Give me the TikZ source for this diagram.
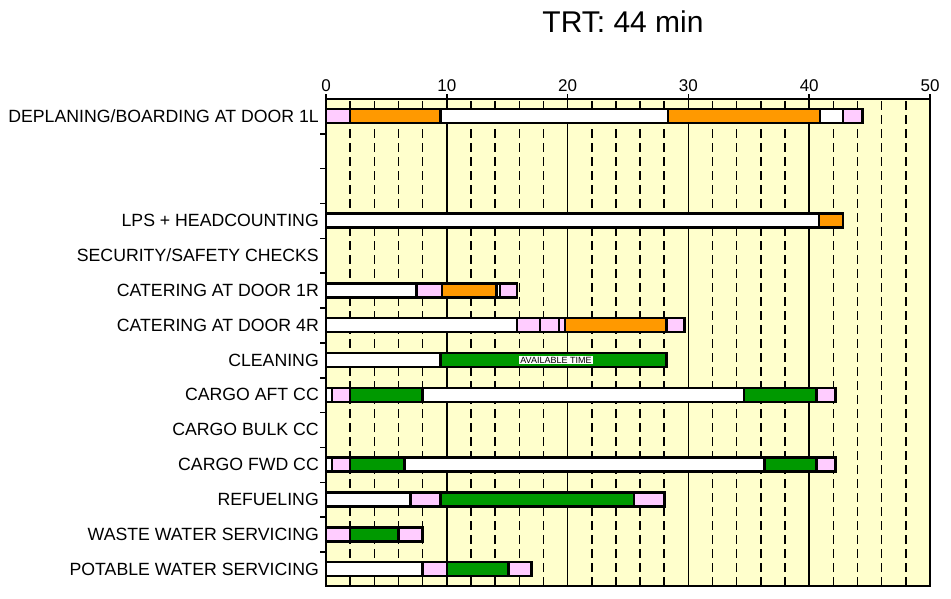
\documentclass[tikz,border=0pt]{standalone}
\usepackage{fontspec}
\setmainfont{Liberation Sans}
\definecolor{bgy}{HTML}{FFFFCC}
\definecolor{pk}{HTML}{FFCCFF}
\definecolor{og}{HTML}{FF9900}
\definecolor{gr}{HTML}{009900}
\begin{document}
\begin{tikzpicture}[x=1pt,y=1pt,
  seg/.style={draw=black,line width=2.6pt},
  lab/.style={anchor=east,font=\fontsize{17.7}{18}\selectfont,inner sep=0pt},
  tk/.style={anchor=south,font=\fontsize{17}{18}\selectfont,inner sep=0pt}]
\useasboundingbox (0,0) rectangle (951,598);
% background
\fill[bgy] (326,12) rectangle (930,499);
% grid
\foreach \m in {2,4,6,8,12,14,16,18,22,24,26,28,32,34,36,38,42,44,46,48}
  \draw[line width=1.5pt,dash pattern=on 9pt off 5pt] ({326+12.08*\m},12) -- ({326+12.08*\m},499);
\foreach \m in {10,20,30,40}
  \draw[line width=1.5pt] ({326+12.08*\m},12) -- ({326+12.08*\m},499);
% axes
\draw[line width=2pt] (326,12) -- (930,12) -- (930,499) -- (326,499) -- cycle;
\foreach \m in {0,10,20,30,40,50} {
  \draw[line width=1.5pt] ({326+12.08*\m},499) -- ({326+12.08*\m},504);
  \node[tk] (t\m) at ({326+12.08*\m},506) {\m};}
\foreach \i in {1,...,13}
  \draw[line width=1.5pt] (326,{499-34.85*\i}) -- (320,{499-34.85*\i});
\node[font=\fontsize{30}{31}\selectfont,anchor=base] (title) at (623,565) {TRT: 44 min};
% labels
\foreach \i/\t in {0/DEPLANING\slash BOARDING AT DOOR 1L,3/LPS + HEADCOUNTING,4/SECURITY\slash SAFETY CHECKS,
  5/CATERING AT DOOR 1R,6/CATERING AT DOOR 4R,7/CLEANING,8/CARGO AFT CC,9/CARGO BULK CC,
  10/CARGO FWD CC,11/REFUELING,12/WASTE WATER SERVICING,13/POTABLE WATER SERVICING}
  \node[lab] (l\i) at (319,{482-34.85*\i}) {\t};
% bars: row / start / end / colour
\foreach \r/\a/\b/\c in {
 0/0/2/pk,0/2/9.5/og,0/9.5/28.3/white,0/28.3/40.9/og,0/40.9/42.8/white,0/42.8/44.4/pk,
 3/0/40.8/white,3/40.8/42.8/og,
 5/0/7.5/white,5/7.5/9.6/pk,5/9.6/14.1/og,5/14.1/14.4/white,5/14.4/15.8/pk,
 6/0/15.8/white,6/15.8/17.7/pk,6/17.7/19.3/pk,6/19.3/19.8/pk,6/19.8/28.2/og,6/28.2/29.7/pk,
 7/0/9.5/white,7/9.5/28.2/gr,
 8/0/0.5/white,8/0.5/2/pk,8/2/8/gr,8/8/34.6/white,8/34.6/40.6/gr,8/40.6/42.2/pk,
 10/0/0.5/white,10/0.5/2/pk,10/2/6.5/gr,10/6.5/36.3/white,10/36.3/40.6/gr,10/40.6/42.2/pk,
 11/0/7/white,11/7/9.5/pk,11/9.5/25.5/gr,11/25.5/28/pk,
 12/0/2/pk,12/2/6/gr,12/6/8/pk,
 13/0/8/white,13/8/10/pk,13/10/15.1/gr,13/15.1/17/pk}
  \draw[seg,fill=\c] ({326+12.08*\a},{475-34.85*\r}) rectangle ({326+12.08*\b},{489-34.85*\r});
\node[fill=white,inner sep=1pt,font=\fontsize{9}{9}\selectfont] (avail) at (556,{482-34.85*7}) {AVAILABLE TIME};
\end{tikzpicture}
\end{document}
